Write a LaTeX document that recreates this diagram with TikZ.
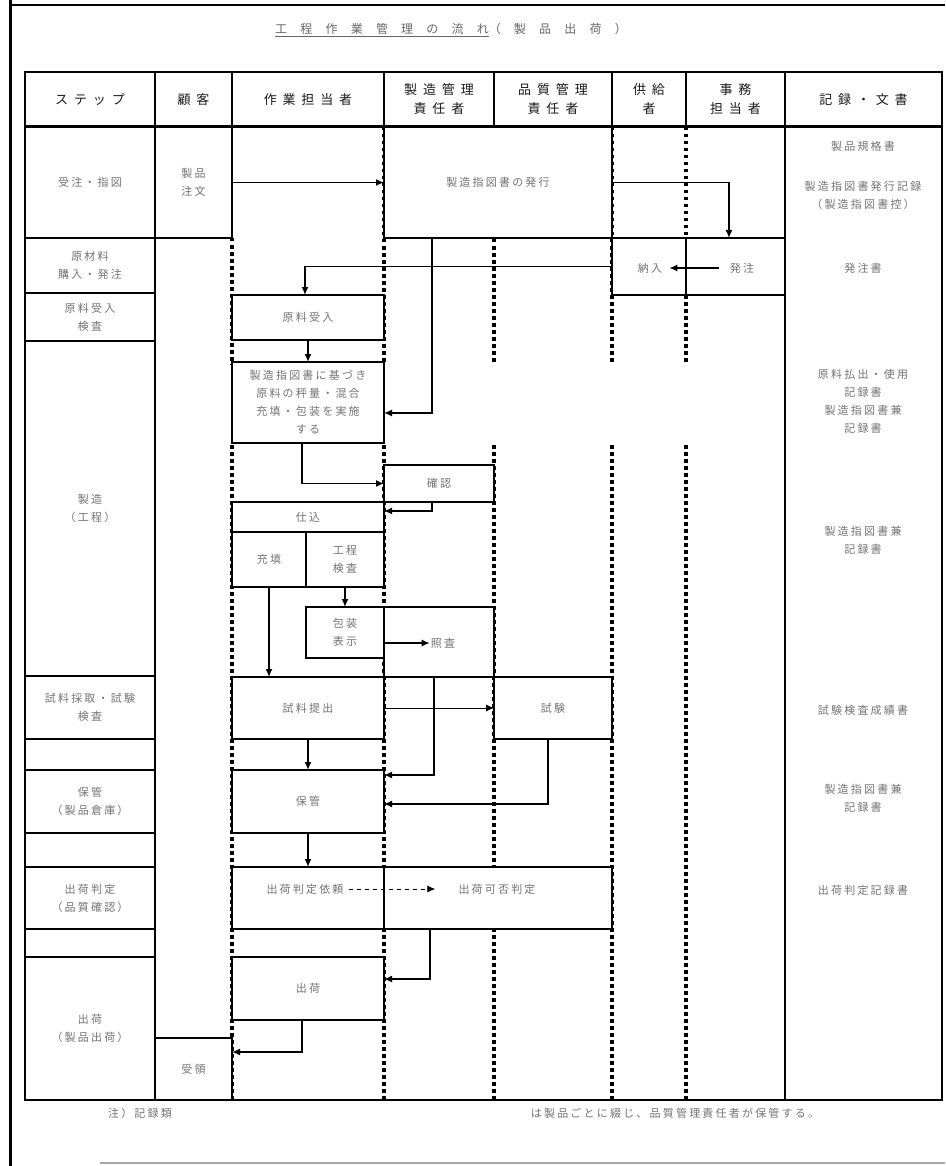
\documentclass[tikz,border=0pt]{standalone}
\usepackage{fontspec}
\newfontfamily\jpbody[LetterSpace=20]{Noto Sans CJK JP}
\newfontfamily\jphead[LetterSpace=45]{Noto Sans CJK JP}
\newfontfamily\jptitle[LetterSpace=110]{Noto Sans CJK JP}
\usetikzlibrary{arrows.meta}

\begin{document}
\begin{tikzpicture}[x=1pt,y=-1pt,cell/.style={draw,line width=1.6pt,fill=white,inner sep=0pt,outer sep=0pt,align=center,text=black!55,font=\jpbody\fontsize{11}{18}\selectfont},head/.style={draw,line width=1.6pt,inner sep=0pt,outer sep=0pt,align=center,text=black!90,font=\jphead\fontsize{13}{19}\selectfont},txt/.style={inner sep=1pt,align=center,text=black!55,font=\jpbody\fontsize{11}{18}\selectfont},lane/.style={line width=3.4pt,dash pattern=on 3.5pt off 3.5pt},arrow/.style={-{Latex[length=8pt,width=7pt]},line width=1.5pt}]
\useasboundingbox (0,0) rectangle (945,1166);
\draw[line width=3pt] (10,0) -- (10,1166);
\draw[line width=1.5pt] (10,5) -- (945,5);
\draw[line width=1.5pt,black!35] (100,1163) -- (945,1163);
\node[text=black!60,font=\jptitle\fontsize{12}{14}\selectfont] (title) at (451,30) {\underline{工程作業管理の流れ}（製品出荷）};
\draw[line width=1.8pt] (25,72) rectangle (942,1100);
\draw[line width=1.6pt] (785,127) -- (785,1100);
\draw[lane] (232,238) -- (232,365) (232,445) -- (232,1100);
\draw[lane] (384,127) -- (384,365) (384,445) -- (384,1100);
\draw[lane] (494,127) -- (494,365) (494,445) -- (494,1100);
\draw[lane] (612,127) -- (612,365) (612,445) -- (612,1100);
\draw[lane] (686,127) -- (686,365) (686,445) -- (686,1100);
\node[head,minimum width=130,minimum height=55] (hstep) at (90,99.5) {ステップ};
\node[head,minimum width=77,minimum height=55] (hcust) at (193.5,99.5) {顧客};
\node[head,minimum width=152,minimum height=55] (hwork) at (308,99.5) {作業担当者};
\node[head,minimum width=110,minimum height=55] (hmfg) at (439,99.5) {製造管理\\責任者};
\node[head,minimum width=118,minimum height=55] (hqa) at (553,99.5) {品質管理\\責任者};
\node[head,minimum width=74,minimum height=55] (hsup) at (649,99.5) {供給\\者};
\node[head,minimum width=99,minimum height=55] (hoff) at (735.5,99.5) {事務\\担当者};
\node[head,minimum width=157,minimum height=55] (hrec) at (863.5,99.5) {記録・文書};
\draw[line width=3pt] (hstep.south west) -- (hrec.south east);
\node[cell,minimum width=130,minimum height=111] (s1) at (90,182.5) {受注・指図};
\node[cell,minimum width=130,minimum height=55] (s2) at (90,265.5) {原材料\\購入・発注};
\node[cell,minimum width=130,minimum height=48] (s3) at (90,317) {原料受入\\検査};
\node[cell,minimum width=130,minimum height=335] (s4) at (90,508.5) {製造\\（工程）};
\node[cell,minimum width=130,minimum height=63] (s5) at (90,707.5) {試料採取・試験\\検査};
\node[cell,minimum width=130,minimum height=31] (s6) at (90,754.5) {};
\node[cell,minimum width=130,minimum height=63] (s7) at (90,801.5) {保管\\（製品倉庫）};
\node[cell,minimum width=130,minimum height=34] (s8) at (90,850) {};
\node[cell,minimum width=130,minimum height=62] (s9) at (90,898) {出荷判定\\（品質確認）};
\node[cell,minimum width=130,minimum height=28] (s10) at (90,943) {};
\node[cell,minimum width=130,minimum height=143] (s11) at (90,1028.5) {出荷\\（製品出荷）};
\node[cell,minimum width=77,minimum height=111] (cust1) at (193.5,182.5) {製品\\注文};
\node[cell,minimum width=228,minimum height=111] (order) at (498,182.5) {製造指図書の発行};
\node[cell,minimum width=74,minimum height=57] (supply) at (649,266.5) {};
\node[cell,minimum width=99,minimum height=57] (purchase) at (735.5,266.5) {};
\node[txt] (supplytxt) at (650,268) {納入};
\node[txt] (purchasetxt) at (742,268) {発注};
\node[cell,minimum width=152,minimum height=45] (recv) at (308,317.5) {原料受入};
\node[cell,minimum width=152,minimum height=81] (work) at (308,402.5) {製造指図書に基づき\\原料の秤量・混合\\充填・包装を実施\\する};
\node[cell,minimum width=110,minimum height=37] (check) at (439,483.5) {確認};
\node[cell,minimum width=152,minimum height=30] (prep) at (308,517) {仕込};
\node[cell,minimum width=74,minimum height=55] (filling) at (269,559.5) {充填};
\node[cell,minimum width=78,minimum height=55] (inspect) at (345,559.5) {工程\\検査};
\node[cell,minimum width=78,minimum height=51] (pack) at (345,632.5) {包装\\表示};
\node[cell,minimum width=110,minimum height=70] (review) at (439,642) {};
\node[txt] (reviewtxt) at (443,643) {照査};
\node[cell,minimum width=152,minimum height=62] (sampling) at (308,708) {試料提出};
\node[cell,minimum width=118,minimum height=62] (test) at (553,708) {試験};
\node[cell,minimum width=152,minimum height=63] (store) at (308,801.5) {保管};
\node[cell,minimum width=152,minimum height=62] (request) at (308,898) {};
\node[cell,minimum width=228,minimum height=62] (judge) at (498,898) {};
\node[txt] (requesttxt) at (305,889) {出荷判定依頼};
\node[txt] (judgetxt) at (497,889) {出荷可否判定};
\node[cell,minimum width=152,minimum height=63] (ship) at (308,988.5) {出荷};
\node[cell,minimum width=77,minimum height=62] (cust2) at (193.5,1069) {受領};
\node[txt] (r1a) at (863,146) {製品規格書};
\node[txt] (r1b) at (863,195) {製造指図書発行記録\\（製造指図書控）};
\node[txt] (r2) at (863,268) {発注書};
\node[txt] (r4a) at (863,401) {原料払出・使用\\記録書\\製造指図書兼\\記録書};
\node[txt] (r4b) at (863,540) {製造指図書兼\\記録書};
\node[txt] (r5) at (863,710) {試験検査成績書};
\node[txt] (r7) at (863,798) {製造指図書兼\\記録書};
\node[txt] (r9) at (863,890) {出荷判定記録書};
\node[txt] (note1) at (140,1113) {注）記録類};
\node[txt] (note2) at (675,1113) {は製品ごとに綴じ、品質管理責任者が保管する。};
\coordinate (b1) at (729,182);
\coordinate (b2) at (305,268);
\coordinate (b3) at (432,413);
\coordinate (b4) at (302,483.5);
\coordinate (b5) at (432,511);
\coordinate (b6) at (434,775);
\coordinate (b7) at (548,804);
\coordinate (b9) at (430,979);
\coordinate (b10) at (302,1052);
\draw[arrow] (cust1.east) -- (order.west);
\draw[arrow] (order.east) -| (b1 |- purchase.north);
\draw[arrow,shorten <=10pt,shorten >=6pt] (purchasetxt.west) -- (supplytxt.east);
\draw[arrow] (supply.west) -| (b2 |- recv.north);
\draw[arrow] (recv.south) -- (work.north);
\draw[arrow] (order.south -| b3) |- (work.east |- b3);
\draw[arrow] (work.south -| b4) |- (check.west);
\draw[arrow] (check.south -| b5) |- (prep.east |- b5);
\draw[arrow] (inspect.south) -- (pack.north);
\draw[arrow] (filling.south) -- (filling.south |- sampling.north);
\draw[arrow] (pack.east |- reviewtxt) -- (reviewtxt.west);
\draw[arrow,line width=0.8pt] (sampling.east) -- (test.west);
\draw[arrow] (review.south -| b6) |- (store.east |- b6);
\draw[arrow] (test.south -| b7) |- (store.east |- b7);
\draw[arrow] (sampling.south) -- (store.north);
\draw[arrow] (store.south) -- (request.north);
\draw[arrow,line width=0.8pt,dash pattern=on 4pt off 4pt,shorten <=4pt,shorten >=22pt] (requesttxt.east) -- (judgetxt.west);
\draw[arrow] (judge.south -| b9) |- (ship.east |- b9);
\draw[arrow] (ship.south -| b10) |- (cust2.east |- b10);
\end{tikzpicture}
\end{document}
